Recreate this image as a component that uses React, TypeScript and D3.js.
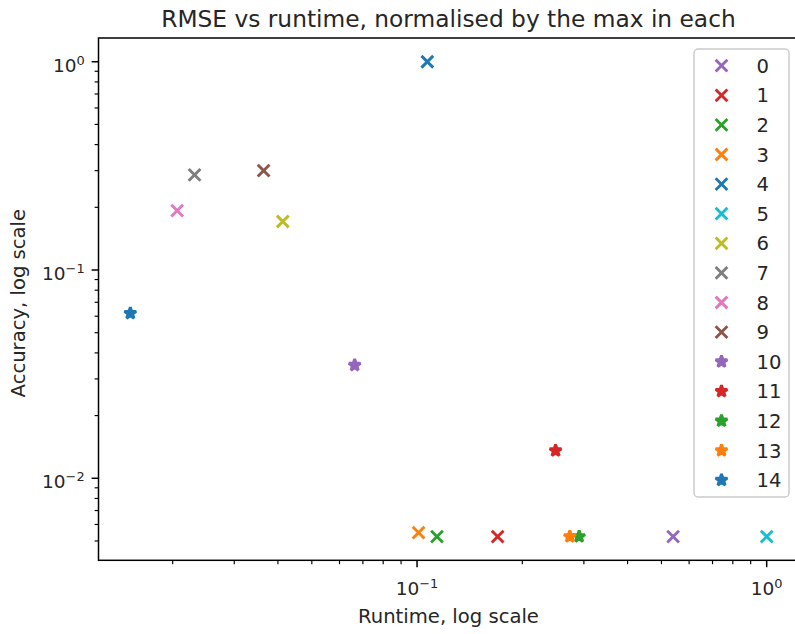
import React from 'react';
import * as d3 from 'd3';

const labels = ['0', '1', '2', '3', '4', '5', '6', '7', '8', '9', '10', '11', '12', '13', '14'];
const runtime = [0.54, 0.17, 0.114, 0.101, 0.107, 1.0, 0.0413, 0.0231, 0.0206, 0.0364, 0.0663, 0.249, 0.2908, 0.2735, 0.01513];
const rmse = [0.00525, 0.00525, 0.00525, 0.00548, 1.0, 0.00525, 0.171, 0.286, 0.193, 0.3, 0.0349, 0.01357, 0.00525, 0.00525, 0.062];
const shapes = ['x', 'x', 'x', 'x', 'x', 'x', 'x', 'x', 'x', 'x', 'star', 'star', 'star', 'star', 'star'];
const colors = ['#9467bd', '#d62728', '#2ca02c', '#ff7f0e', '#1f77b4', '#17becf', '#bcbd22', '#7f7f7f', '#e377c2', '#8c564b', '#9467bd', '#d62728', '#2ca02c', '#ff7f0e', '#1f77b4'];
const xMajor = [0.1, 1];
const xMajorExp = ['\u22121', '0'];
const yMajor = [1, 0.1, 0.01];
const yMajorExp = ['0', '\u22121', '\u22122'];

const FONT = 'DejaVu Sans, sans-serif';

function padLog(vals: number[]): [number, number] {
  const lo = Math.log10(d3.min(vals) as number);
  const hi = Math.log10(d3.max(vals) as number);
  const r = hi - lo;
  return [Math.pow(10, lo - 0.05 * r), Math.pow(10, hi + 0.05 * r)];
}

function minorTicks(domain: [number, number]) {
  const out: number[] = [];
  for (let e = -4; e <= 1; e++) {
    for (let k = 2; k <= 9; k++) {
      const v = k * Math.pow(10, e);
      if (v >= domain[0] && v <= domain[1]) out.push(v);
    }
  }
  return out;
}

const MS = 11.75; // marker size px
const LW = 2.9;

function Marker({ shape, color, cx, cy }: { shape: string; color: string; cx: number; cy: number }) {
  const h = MS / 2;
  if (shape === 'x') {
    return (
      <path
        d={`M${cx - h},${cy - h}L${cx + h},${cy + h}M${cx - h},${cy + h}L${cx + h},${cy - h}`}
        stroke={color}
        strokeWidth={LW}
        fill="none"
      />
    );
  }
  const R = h * 1.05;
  const r = R * 0.381966;
  const pts: string[] = [];
  for (let i = 0; i < 10; i++) {
    const a = -Math.PI / 2 + (i * Math.PI) / 5;
    const rad = i % 2 === 0 ? R : r;
    pts.push(`${cx + rad * Math.cos(a)},${cy + rad * Math.sin(a)}`);
  }
  return <polygon points={pts.join(' ')} fill={color} stroke={color} strokeWidth={LW} strokeLinejoin="bevel" />;
}

export default function App() {
  const W = 795;
  const H = 634;
  const left = 98.5;
  const right = 798.5;
  const top = 38;
  const bottom = 560.3;
  const xDom = padLog(runtime);
  const yDom = padLog(rmse);
  const x = d3.scaleLog().domain(xDom).range([left, right]);
  const y = d3.scaleLog().domain(yDom).range([bottom, top]);
  const xMinor = minorTicks(xDom);
  const yMinor = minorTicks(yDom);
  const majLen = 6.9;
  const minLen = 3.9;
  const tickFs = 18.5;
  const labelFs = 19.6;

  const legX = 694;
  const legY = 49;
  const legW = 95;
  const rowH = 29.6;
  const legH = 448;

  return (
    <svg width={W} height={H} style={{ position: 'absolute', left: 0, top: 0 }} fontFamily={FONT}>
      <rect x={0} y={0} width={W} height={H} fill="#ffffff" />
      {/* points */}
      {runtime.map((rv, i) => (
        <Marker key={i} shape={shapes[i]} color={colors[i]} cx={x(rv)} cy={y(rmse[i])} />
      ))}
      {/* spines */}
      <rect x={left} y={top} width={right - left} height={bottom - top} fill="none" stroke="#000" strokeWidth={1.5} />
      {/* x ticks */}
      {xMinor.map((v, i) => (
        <line key={'xm' + i} x1={x(v)} x2={x(v)} y1={bottom} y2={bottom + minLen} stroke="#000" strokeWidth={1.15} />
      ))}
      {xMajor.map((v, i) => (
        <g key={'xM' + i}>
          <line x1={x(v)} x2={x(v)} y1={bottom} y2={bottom + majLen} stroke="#000" strokeWidth={1.5} />
          <text x={x(v)} y={bottom + 34.7} textAnchor="middle" fontSize={tickFs} fill="#262626">
            10
            <tspan fontSize={tickFs * 0.7} dy={-7}>
              {xMajorExp[i]}
            </tspan>
          </text>
        </g>
      ))}
      {/* y ticks */}
      {yMinor.map((v, i) => (
        <line key={'ym' + i} x1={left - minLen} x2={left} y1={y(v)} y2={y(v)} stroke="#000" strokeWidth={1.15} />
      ))}
      {yMajor.map((v, i) => (
        <g key={'yM' + i}>
          <line x1={left - majLen} x2={left} y1={y(v)} y2={y(v)} stroke="#000" strokeWidth={1.5} />
          <text x={left - majLen - 6.9} y={y(v) + 10} textAnchor="end" fontSize={tickFs} fill="#262626">
            10
            <tspan fontSize={tickFs * 0.7} dy={-7}>
              {yMajorExp[i]}
            </tspan>
          </text>
        </g>
      ))}
      {/* axis labels */}
      <text x={(left + right) / 2} y={623} textAnchor="middle" fontSize={labelFs} fill="#262626">
        Runtime, log scale
      </text>
      <text
        transform={`translate(${25},${(top + bottom) / 2 + 4}) rotate(-90)`}
        textAnchor="middle"
        fontSize={labelFs}
        fill="#262626"
      >
        Accuracy, log scale
      </text>
      <text x={(left + right) / 2} y={26.5} textAnchor="middle" fontSize={23.3} fill="#262626">
        RMSE vs runtime, normalised by the max in each
      </text>
      {/* legend */}
      <rect x={legX} y={legY} width={legW} height={legH} rx={4} ry={4} fill="#ffffff" fillOpacity={0.8} stroke="#cccccc" strokeWidth={1.5} />
      {labels.map((lab, i) => {
        const cy = 65.7 + i * rowH;
        return (
          <g key={'lg' + i}>
            <Marker shape={shapes[i]} color={colors[i]} cx={721.5} cy={cy} />
            <text x={756.5} y={cy + 7} fontSize={labelFs} fill="#262626">
              {lab}
            </text>
          </g>
        );
      })}
    </svg>
  );
}
